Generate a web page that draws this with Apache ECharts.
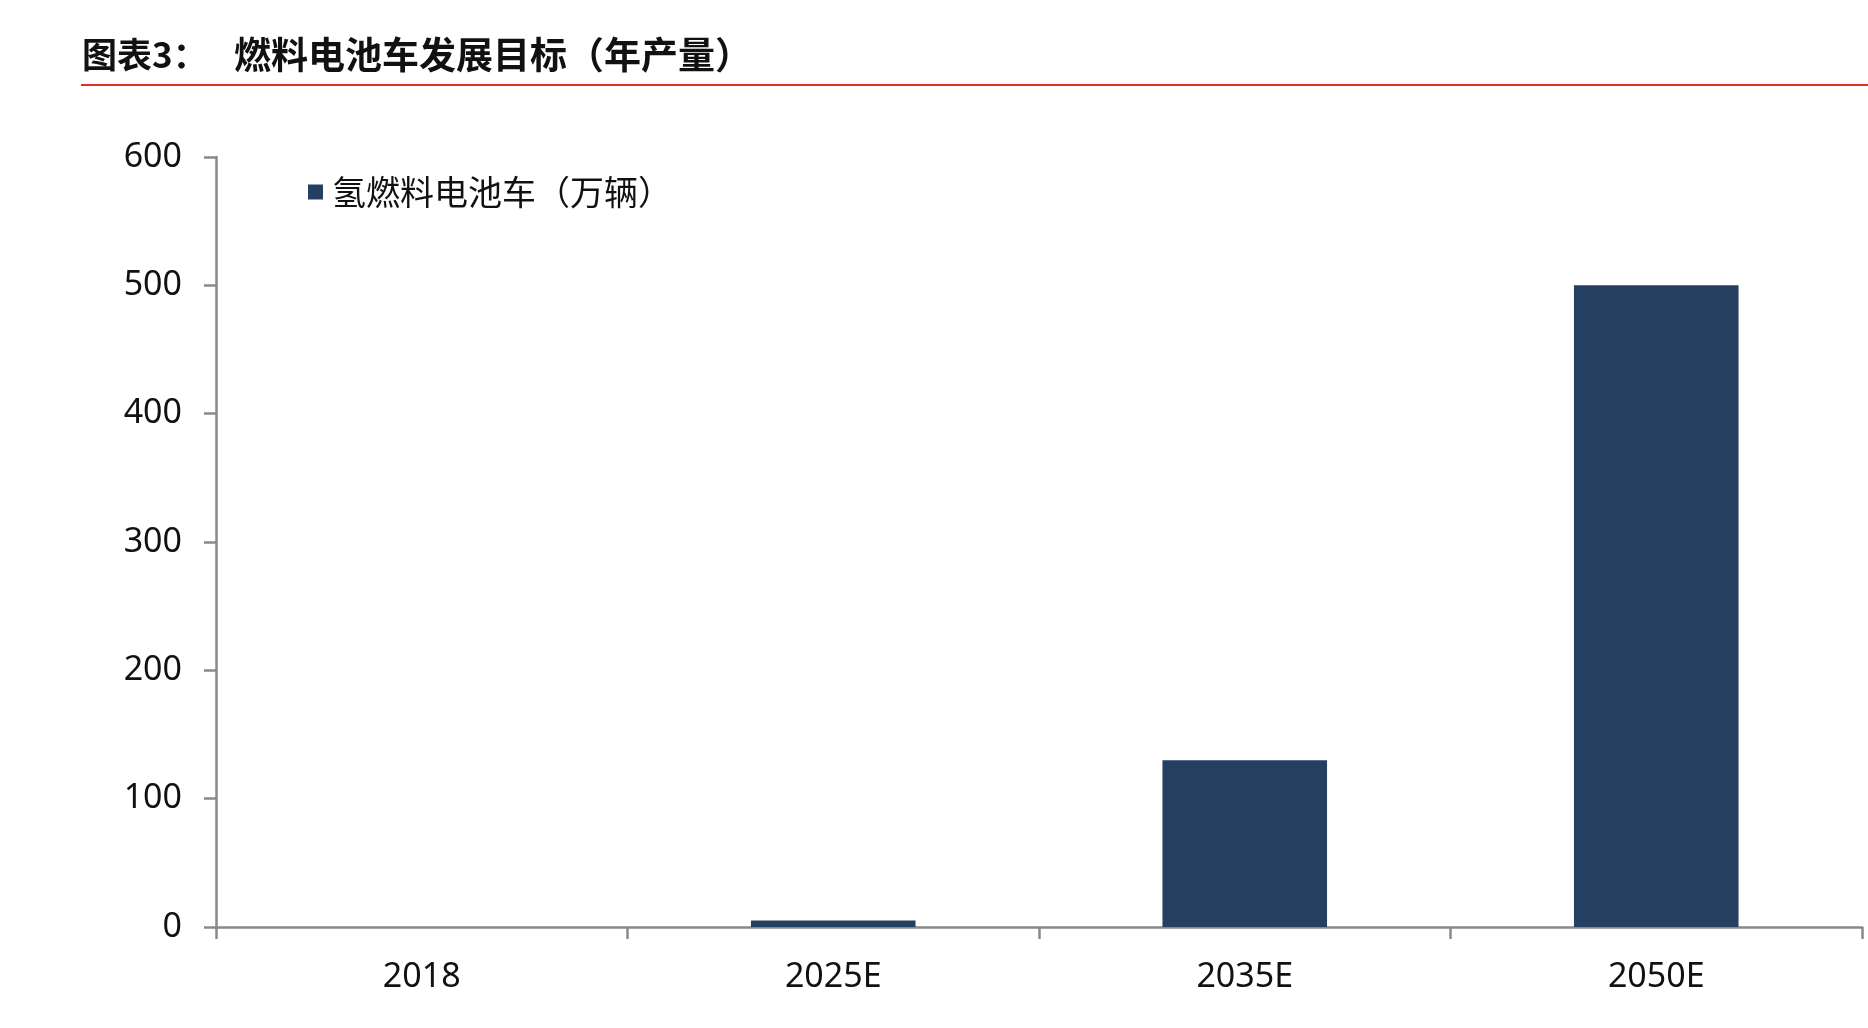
<!DOCTYPE html>
<html>
<head>
<meta charset="utf-8">
<script src="https://cdn.jsdelivr.net/npm/echarts@6/dist/echarts.min.js"></script>
<style>
html,body{margin:0;padding:0;background:#fff;}
#c{width:1868px;height:1028px;}
</style>
</head>
<body>
<div id="c"></div>
<script>
const titlePrefix = '图表3：';
const titleText = '燃料电池车发展目标（年产量）';
const categories = ['2018', '2025E', '2035E', '2050E'];
const seriesName = '氢燃料电池车（万辆）';
const values = [0, 5, 130, 500];
const yTicks = { min: 0, max: 600, interval: 100 };

const chart = echarts.init(document.getElementById('c'));
const axisGray = '#898989';
const titleFont = { fontFamily: 'Noto Sans CJK SC', fontWeight: 'bold', fontSize: 35, fill: '#111' };
chart.setOption({
  backgroundColor: '#ffffff',
  animation: false,
  graphic: [
    { type: 'text', left: 82, top: 37, style: Object.assign({ text: titlePrefix }, titleFont) },
    { type: 'text', left: 234, top: 36, style: Object.assign({ text: titleText }, titleFont, { fontSize: 37 }) },
    { type: 'line', shape: { x1: 81, y1: 85, x2: 1868, y2: 85 }, style: { stroke: '#E2321F', lineWidth: 2 } }
  ],
  legend: {
    left: 303,
    top: 170,
    icon: 'rect',
    itemWidth: 15,
    itemHeight: 15,
    data: [seriesName],
    textStyle: { fontFamily: 'Noto Sans CJK SC', fontSize: 34, color: '#111', padding: [0, 0, 0, 4] }
  },
  grid: { left: 216, right: 6, top: 157, bottom: 101, containLabel: false },
  xAxis: {
    type: 'category',
    data: categories,
    axisLine: { lineStyle: { color: axisGray, width: 2.5 } },
    axisTick: { show: true, length: 12, lineStyle: { color: axisGray, width: 2.5 } },
    axisLabel: { margin: 33, fontFamily: 'Noto Sans', fontSize: 34, color: '#111' },
    splitLine: { show: false }
  },
  yAxis: {
    type: 'value',
    min: yTicks.min,
    max: yTicks.max,
    interval: yTicks.interval,
    axisLine: { show: true, lineStyle: { color: axisGray, width: 2.5 } },
    axisTick: { show: true, length: 12, lineStyle: { color: axisGray, width: 2.5 } },
    axisLabel: { margin: 34, fontFamily: 'Noto Sans', fontSize: 34, color: '#111' },
    splitLine: { show: false }
  },
  series: [{
    name: seriesName,
    type: 'bar',
    data: values,
    barWidth: '40%',
    itemStyle: { color: '#243F60' }
  }]
});
</script>
</body>
</html>
